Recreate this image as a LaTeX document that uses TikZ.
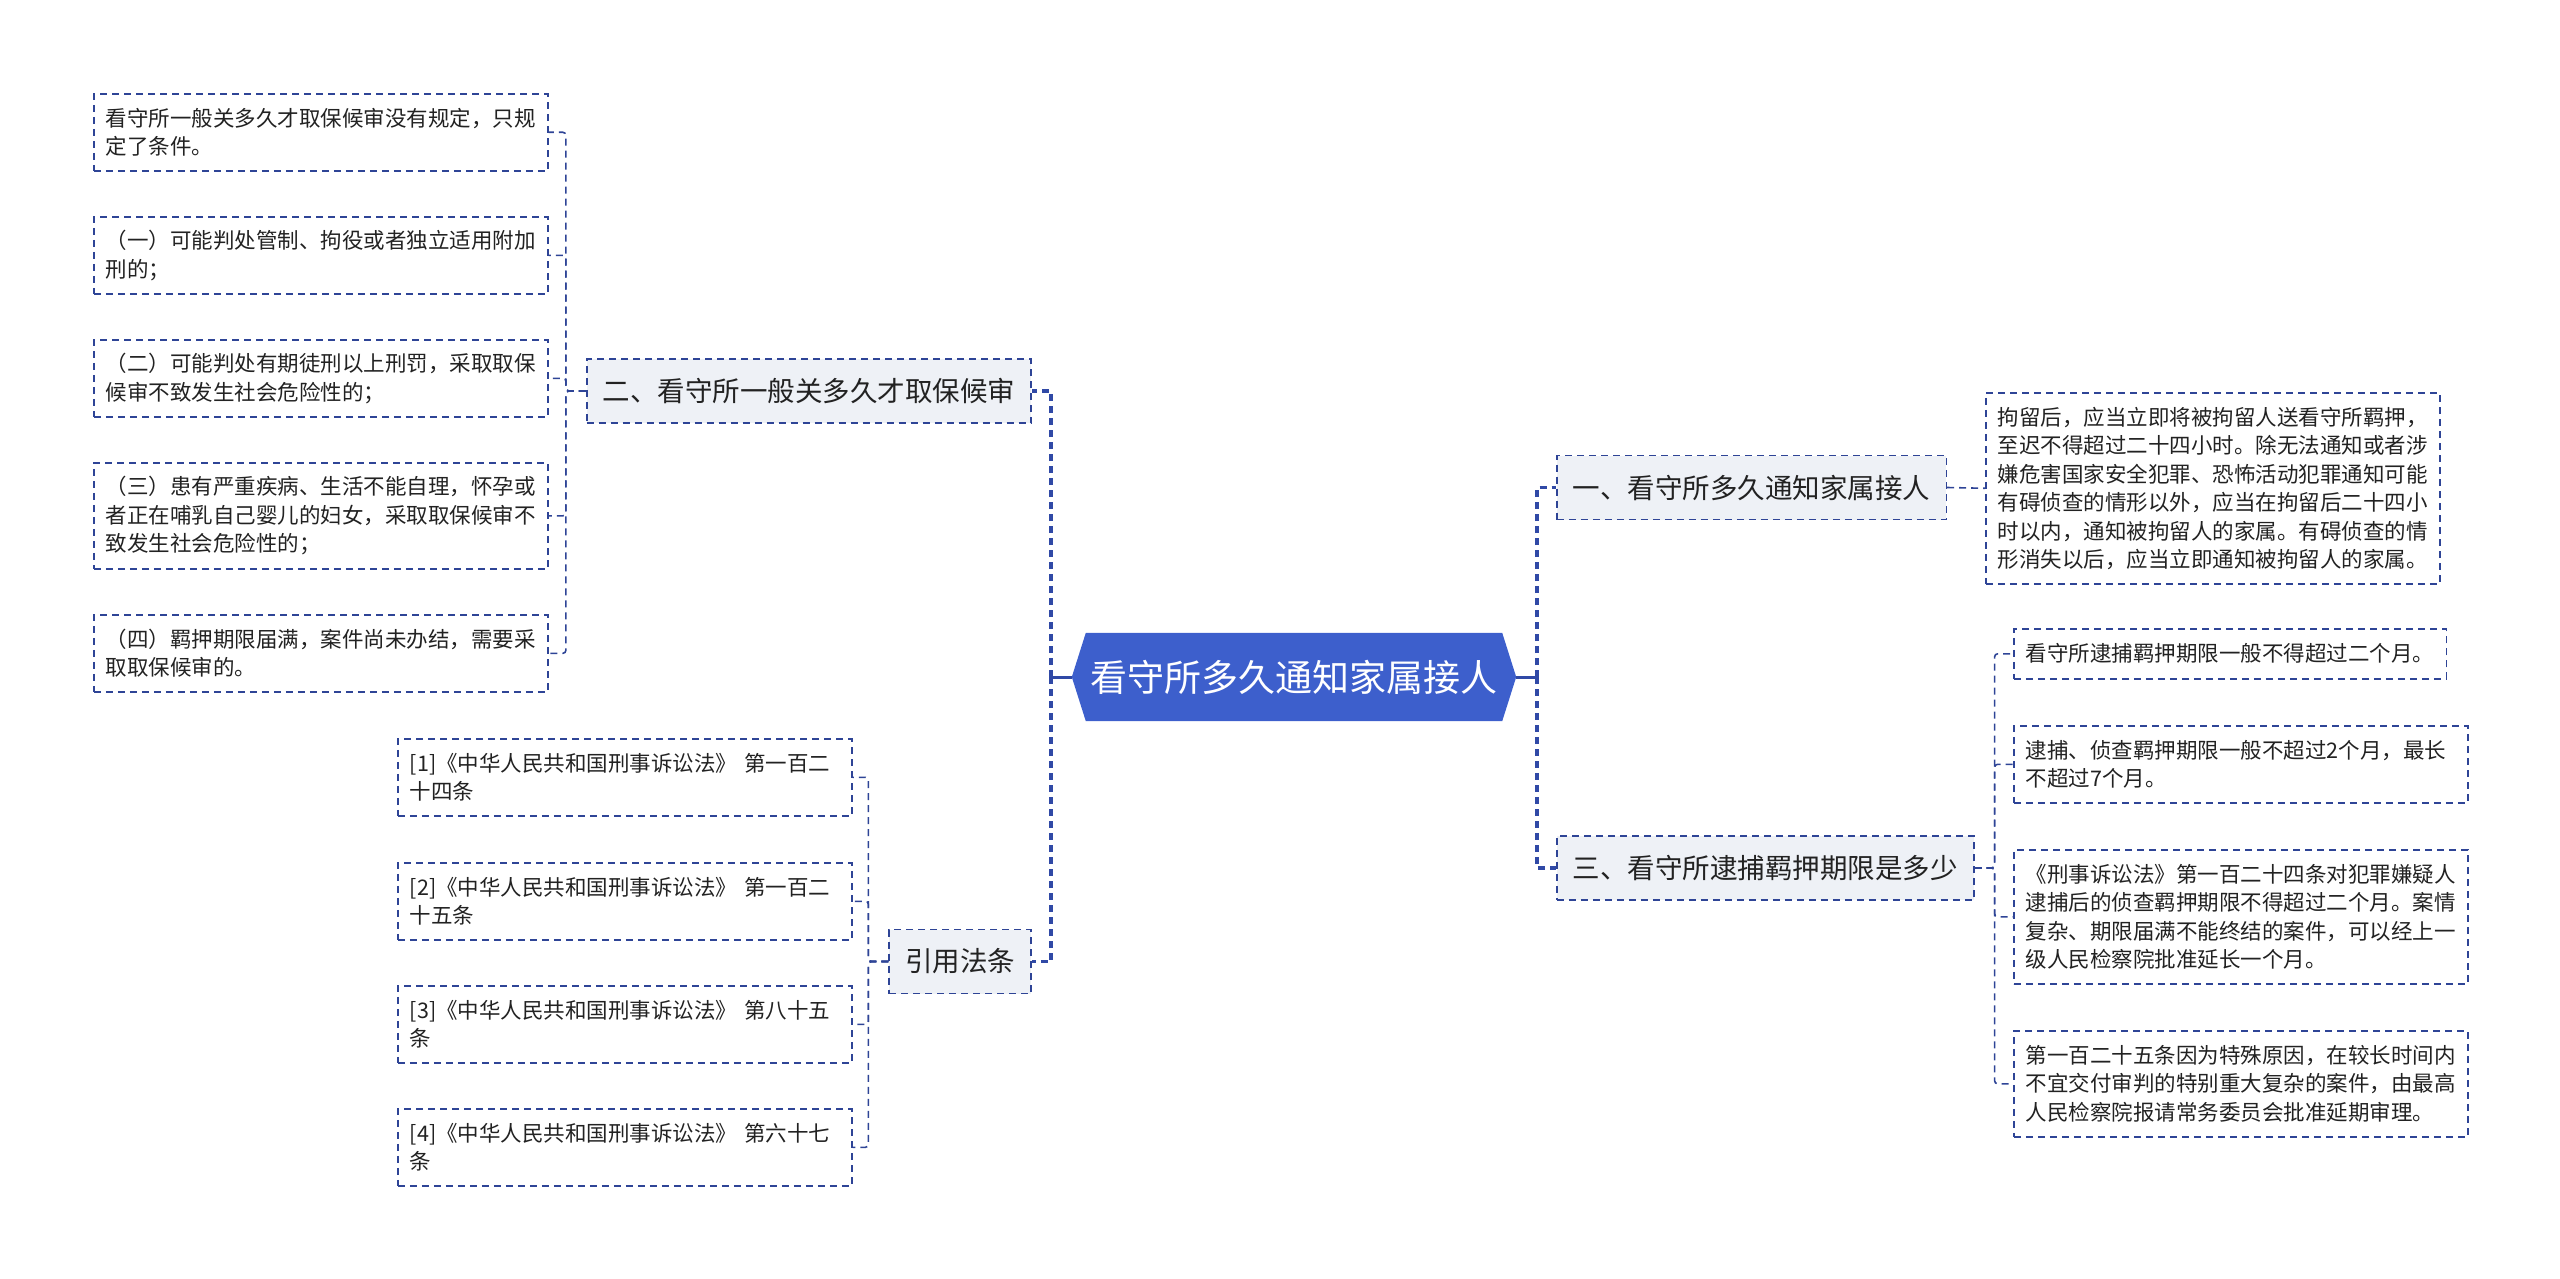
\documentclass[tikz,border=0pt]{standalone}
\usepackage{fontspec}
\setmainfont{Noto Sans CJK SC}
\usetikzlibrary{backgrounds}
\definecolor{linec}{HTML}{2E4496}
\definecolor{trunkc}{HTML}{3049A6}
\definecolor{rootc}{HTML}{3D5FCC}
\definecolor{subfill}{HTML}{EEF1F6}
\definecolor{txtc}{HTML}{222222}
\begin{document}
\begin{tikzpicture}[x=1pt,y=-1pt,
  leafbase/.style={draw=linec, line width=1.6pt, dash pattern=on 7pt off 5pt,
    align=left, inner xsep=12pt, inner ysep=0pt,
    font=\fontsize{21.5}{28.5}\selectfont, text=txtc, anchor=north west},
  leaf/.style={leafbase, text width=430pt},
  sub/.style={draw=linec, fill=subfill, line width=1.6pt, dash pattern=on 7pt off 5pt,
    inner xsep=16pt, inner ysep=0pt, minimum height=64pt,
    font=\fontsize{27.5}{33}\selectfont, text=txtc},
  conn/.style={draw=linec, line width=1.6pt, dash pattern=on 7pt off 5pt, rounded corners=3pt},
  trunk/.style={draw=trunkc, line width=3.5pt, dash pattern=on 7pt off 5pt},
  rootlink/.style={draw=trunkc, line width=3pt},
  rootbox/.style={minimum width=416pt, minimum height=88pt, inner sep=0pt,
    font=\fontsize{37}{42}\selectfont, text=white}
]
\useasboundingbox (0,0) rectangle (2560,1279);

% central node
\node[rootbox] (root) at (1294,677) {看守所多久通知家属接人};
\begin{scope}[on background layer]
\fill[rootc] (root.north west) -- (root.north east) -- ([xshift=14pt]root.east)
  -- (root.south east) -- (root.south west) -- ([xshift=-14pt]root.west) -- cycle;
\end{scope}
\coordinate (rootW) at ([xshift=-14pt]root.west);
\coordinate (rootE) at ([xshift=14pt]root.east);

% left branches
\node[sub, anchor=east] (n2) at (1032,391) {二、看守所一般关多久才取保候审};
\node[sub, anchor=east] (law) at (1032,961.5) {引用法条};

% right branches
\node[sub, anchor=west] (n1) at (1556,487.5) {一、看守所多久通知家属接人};
\node[sub, anchor=west] (n3) at (1556,868) {三、看守所逮捕羁押期限是多少};

% left leaves of n2
\node[leaf, minimum height=77pt] (l1) at (93,93) {看守所一般关多久才取保候审没有规定，只规\\定了条件。};
\node[leaf, minimum height=77pt] (l2) at (93,216) {（一）可能判处管制、拘役或者独立适用附加\\刑的；};
\node[leaf, minimum height=77pt] (l3) at (93,339) {（二）可能判处有期徒刑以上刑罚，采取取保\\候审不致发生社会危险性的；};
\node[leaf, minimum height=106pt] (l4) at (93,462) {（三）患有严重疾病、生活不能自理，怀孕或\\者正在哺乳自己婴儿的妇女，采取取保候审不\\致发生社会危险性的；};
\node[leaf, minimum height=77pt] (l5) at (93,614) {（四）羁押期限届满，案件尚未办结，需要采\\取取保候审的。};

% law leaves
\node[leaf, minimum height=77pt] (r1) at (397,738) {[1]《中华人民共和国刑事诉讼法》~第一百二\\十四条};
\node[leaf, minimum height=77pt] (r2) at (397,862) {[2]《中华人民共和国刑事诉讼法》~第一百二\\十五条};
\node[leaf, minimum height=77pt] (r3) at (397,985) {[3]《中华人民共和国刑事诉讼法》~第八十五\\条};
\node[leaf, minimum height=77pt] (r4) at (397,1108) {[4]《中华人民共和国刑事诉讼法》~第六十七\\条};

% leaf of n1
\node[leaf, minimum height=191pt] (k1) at (1985,392) {拘留后，应当立即将被拘留人送看守所羁押，\\至迟不得超过二十四小时。除无法通知或者涉\\嫌危害国家安全犯罪、恐怖活动犯罪通知可能\\有碍侦查的情形以外，应当在拘留后二十四小\\时以内，通知被拘留人的家属。有碍侦查的情\\形消失以后，应当立即通知被拘留人的家属。};

% leaves of n3
\node[leafbase, minimum height=50pt] (m1) at (2013,628) {看守所逮捕羁押期限一般不得超过二个月。};
\node[leaf, minimum height=77pt] (m2) at (2013,725) {逮捕、侦查羁押期限一般不超过2个月，最长\\不超过7个月。};
\node[leaf, minimum height=134pt] (m3) at (2013,849) {《刑事诉讼法》第一百二十四条对犯罪嫌疑人\\逮捕后的侦查羁押期限不得超过二个月。案情\\复杂、期限届满不能终结的案件，可以经上一\\级人民检察院批准延长一个月。};
\node[leaf, minimum height=106pt] (m4) at (2013,1030) {第一百二十五条因为特殊原因，在较长时间内\\不宜交付审判的特别重大复杂的案件，由最高\\人民检察院报请常务委员会批准延期审理。};

% trunks from root
\coordinate (lt) at (1051,677);
\coordinate (rt) at (1537,677);
\draw[rootlink] (rootW) -- (lt);
\draw[rootlink] (rootE) -- (rt);
\draw[trunk] (lt) |- (n2.east);
\draw[trunk] (lt) |- (law.east);
\draw[trunk] (rt) |- (n1.west);
\draw[trunk] (rt) |- (n3.west);

% connectors to leaves
\foreach \c in {l1,l2,l3,l4,l5}{
  \draw[conn] (n2.west) -- ++(-20,0) |- (\c.east);
}
\foreach \c in {r1,r2,r3,r4}{
  \draw[conn] (law.west) -- ++(-20,0) |- (\c.east);
}
\foreach \c in {m1,m2,m3,m4}{
  \draw[conn] (n3.east) -- ++(20,0) |- (\c.west);
}
\draw[conn] (n1.east) -- (k1.west);
\end{tikzpicture}
\end{document}
